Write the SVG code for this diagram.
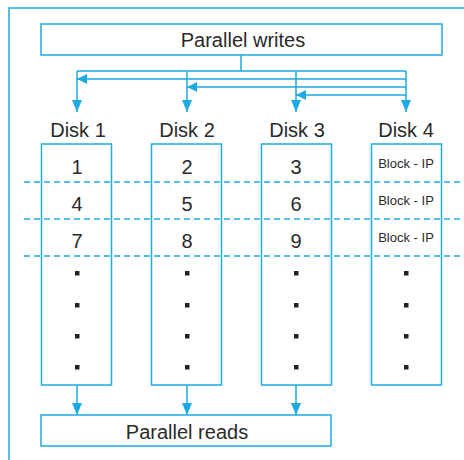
<svg xmlns="http://www.w3.org/2000/svg" width="464" height="460" viewBox="0 0 464 460">
<defs>
<style>
.ln{stroke:#1eaae2;stroke-width:1.5;fill:none}
.bx{stroke:#1eaae2;stroke-width:1.5;fill:#fff}
.ds{stroke:#1eaae2;stroke-width:1.5;stroke-dasharray:6,4;fill:none}
.t{font-family:"Liberation Sans",Arial,sans-serif;fill:#2a2a2a;text-anchor:middle}
.big{font-size:20px}
.sm{font-size:13px}
.dot{fill:#222}
</style>
<marker id="ah" viewBox="0 0 10 10" refX="10" refY="5" markerWidth="10" markerHeight="10" markerUnits="userSpaceOnUse" orient="auto">
<path d="M0,0 L10,5 L0,10 Z" fill="#1eaae2"/>
</marker>
<marker id="ahd" viewBox="0 0 12 10" refX="12" refY="5" markerWidth="12" markerHeight="10" markerUnits="userSpaceOnUse" orient="auto">
<path d="M0,0 L12,5 L0,10 Z" fill="#1eaae2"/>
</marker>
</defs>
<rect width="464" height="460" fill="#fff"/>
<path class="ln" d="M9,460 V8 H464"/>
<g id="dashes">
<line class="ds" x1="24" y1="182" x2="460" y2="182"/>
<line class="ds" x1="24" y1="219" x2="460" y2="219"/>
<line class="ds" x1="24" y1="256" x2="460" y2="256"/>
</g>
<g id="connectors">
<path class="ln" d="M241,55 V71"/>
<path class="ln" d="M77,71 H406"/>
<path class="ln" d="M77,71 V112" marker-end="url(#ahd)"/>
<path class="ln" d="M187,71 V112" marker-end="url(#ahd)"/>
<path class="ln" d="M296,71 V112" marker-end="url(#ahd)"/>
<path class="ln" d="M406,71 V112" marker-end="url(#ahd)"/>
<path class="ln" d="M406,79 H77" marker-end="url(#ah)"/>
<path class="ln" d="M406,87 H187" marker-end="url(#ah)"/>
<path class="ln" d="M406,95 H296" marker-end="url(#ah)"/>
<path class="ln" d="M77,385 V415" marker-end="url(#ahd)"/>
<path class="ln" d="M187,385 V415" marker-end="url(#ahd)"/>
<path class="ln" d="M296,385 V415" marker-end="url(#ahd)"/>
</g>
<g id="writes">
<rect class="bx" x="41" y="24" width="401" height="31"/>
<text class="t big" x="243" y="47">Parallel writes</text>
</g>
<g id="disk1">
<text class="t big" x="78" y="137">Disk 1</text>
<rect class="ln" x="41.5" y="144" width="70" height="241"/>
<text class="t big" x="77" y="174">1</text>
<text class="t big" x="77" y="211">4</text>
<text class="t big" x="77" y="248">7</text>
</g>
<g id="disk2">
<text class="t big" x="187" y="137">Disk 2</text>
<rect class="ln" x="151.5" y="144" width="70" height="241"/>
<text class="t big" x="187" y="174">2</text>
<text class="t big" x="187" y="211">5</text>
<text class="t big" x="187" y="248">8</text>
</g>
<g id="disk3">
<text class="t big" x="297" y="137">Disk 3</text>
<rect class="ln" x="261.5" y="144" width="70" height="241"/>
<text class="t big" x="296" y="174">3</text>
<text class="t big" x="296" y="211">6</text>
<text class="t big" x="296" y="248">9</text>
</g>
<g id="disk4">
<text class="t big" x="406" y="137">Disk 4</text>
<rect class="ln" x="371.5" y="144" width="70" height="241"/>
<text class="t sm" x="406" y="168">Block - IP</text>
<text class="t sm" x="406" y="205">Block - IP</text>
<text class="t sm" x="406" y="242">Block - IP</text>
</g>
<g id="dots">
<g class="dot">
<rect x="75" y="271" width="4.5" height="4.5"/><rect x="75" y="303" width="4.5" height="4.5"/><rect x="75" y="334" width="4.5" height="4.5"/><rect x="75" y="365" width="4.5" height="4.5"/>
<rect x="185" y="271" width="4.5" height="4.5"/><rect x="185" y="303" width="4.5" height="4.5"/><rect x="185" y="334" width="4.5" height="4.5"/><rect x="185" y="365" width="4.5" height="4.5"/>
<rect x="294" y="271" width="4.5" height="4.5"/><rect x="294" y="303" width="4.5" height="4.5"/><rect x="294" y="334" width="4.5" height="4.5"/><rect x="294" y="365" width="4.5" height="4.5"/>
<rect x="404" y="271" width="4.5" height="4.5"/><rect x="404" y="303" width="4.5" height="4.5"/><rect x="404" y="334" width="4.5" height="4.5"/><rect x="404" y="365" width="4.5" height="4.5"/>
</g>
</g>
<g id="reads">
<rect class="bx" x="41" y="415" width="290" height="31"/>
<text class="t big" x="187" y="439">Parallel reads</text>
</g>
</svg>
